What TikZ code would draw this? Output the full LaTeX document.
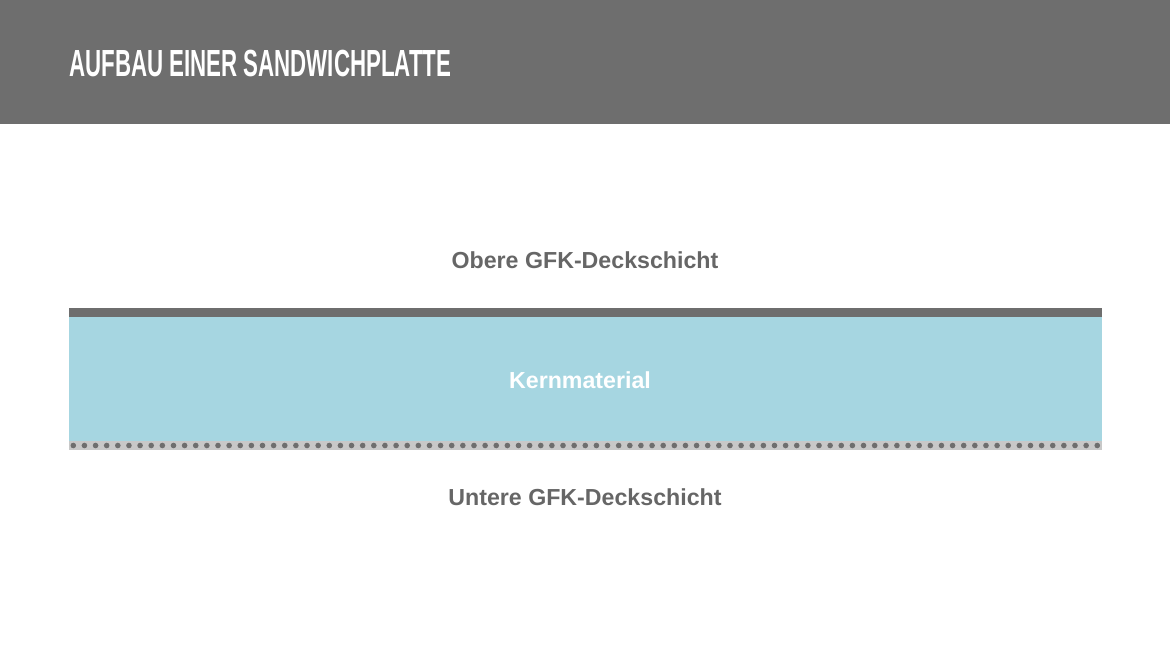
\documentclass[tikz,border=0pt]{standalone}
\usepackage{fontspec}
\setmainfont{Liberation Sans}
\definecolor{bandgray}{HTML}{6E6E6E}
\definecolor{textgray}{HTML}{666666}
\definecolor{corecyan}{HTML}{A6D6E1}
\definecolor{lightgray}{HTML}{C8C8C8}
\tikzset{
  label/.style={text=textgray,font=\bfseries\fontsize{13.2}{15}\selectfont,inner sep=0pt},
}
\begin{document}
\begin{tikzpicture}[x=0.02cm,y=-0.02cm]
\useasboundingbox (0,0) rectangle (1170,659);
\fill[bandgray] (0,0) rectangle (1170,124);
\node[anchor=base west,text=white,inner sep=0pt,xscale=0.59,font=\bfseries\fontsize{21.5}{24}\selectfont] (title) at (69,76) {AUFBAU EINER SANDWICHPLATTE};
% plate
\fill[bandgray] (69,308) rectangle (1102,317);
\fill[corecyan] (69,317) rectangle (1102,441);
\fill[lightgray] (69,441) rectangle (1102,450);
\foreach\i in {0,...,92}{
 \fill[bandgray] (73.3+\i*11.13,445.5) circle (2.8);
}
\node[label] (obere) at (585,260) {Obere GFK-Deckschicht};
\node[label,text=white] (kern) at (580,380) {Kernmaterial};
\node[label] (untere) at (585,497) {Untere GFK-Deckschicht};
\end{tikzpicture}
\end{document}
